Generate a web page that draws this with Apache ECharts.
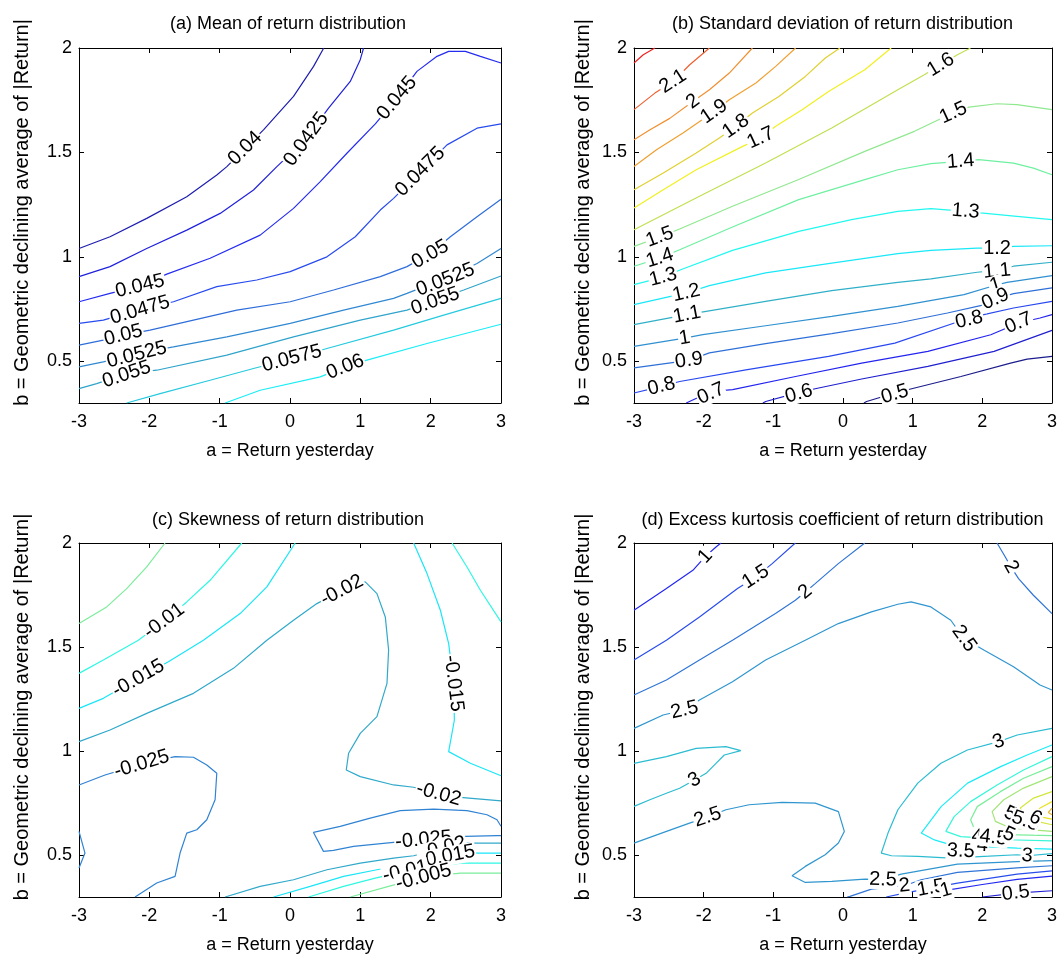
<!DOCTYPE html>
<html><head><meta charset="utf-8">
<script src="https://cdn.jsdelivr.net/npm/echarts@6/dist/echarts.min.js"></script>
<style>html,body{margin:0;padding:0;background:#fff}#c{width:1060px;height:957px}</style>
</head><body><div id="c"></div><script>
// ---------- DATA ----------
const xTicks = [-3, -2, -1, 0, 1, 2, 3];
const yTicks = [0.5, 1, 1.5, 2];
const titles = ['(a) Mean of return distribution', '(b) Standard deviation of return distribution',
  '(c) Skewness of return distribution', '(d) Excess kurtosis coefficient of return distribution'];
const xName = 'a = Return yesterday';
const yName = 'b = Geometric declining average of |Return|';

// each entry: [level, [[a, b], ...]]
const meanLines = [
 [0.04, [[-3,1.04],[-2.559,1.096],[-2.037,1.184],[-1.468,1.288],[-1.041,1.392],[-0.898,1.432],[-0.638,1.52],[-0.377,1.608],[0.05,1.768],[0.335,1.912],[0.48,2.0]]],
 [0.0425, [[-3,0.905],[-2.559,0.953],[-2.037,1.04],[-1.468,1.128],[-0.993,1.208],[-0.519,1.32],[-0.187,1.432],[0.216,1.56],[0.548,1.712],[0.857,1.84],[0.999,1.944],[1.046,2.0]]],
 [0.045, [[-3,0.785],[-2.559,0.825],[-2.132,0.86],[-1.752,0.917],[-1.136,0.993],[-0.424,1.104],[0.05,1.232],[0.43,1.36],[0.809,1.496],[1.213,1.637],[1.521,1.76],[1.805,1.888],[2.09,1.96],[2.256,1.984],[2.493,1.984],[2.707,1.96],[3,1.928]]],
 [0.0475, [[-3,0.681],[-2.654,0.697],[-2.132,0.748],[-1.657,0.785],[-1.041,0.857],[-0.472,0.889],[0.003,0.929],[0.525,1.0],[0.928,1.096],[1.284,1.224],[1.473,1.28],[1.853,1.408],[2.232,1.536],[2.659,1.616],[3,1.637]]],
 [0.05, [[-3,0.577],[-2.654,0.601],[-2.369,0.625],[-1.99,0.649],[-1.373,0.697],[-0.756,0.745],[0.003,0.785],[0.62,0.841],[1.284,0.905],[1.663,0.953],[1.995,1.016],[2.28,1.096],[2.659,1.192],[3,1.276]]],
 [0.0525, [[-3,0.473],[-2.654,0.497],[-2.179,0.537],[-1.657,0.569],[-0.898,0.617],[0.003,0.681],[0.762,0.745],[1.473,0.801],[1.663,0.825],[2.209,0.897],[2.659,0.968],[3,1.04]]],
 [0.055, [[-3,0.369],[-2.749,0.393],[-2.322,0.441],[-1.895,0.457],[-0.898,0.529],[0.05,0.617],[0.999,0.697],[1.663,0.745],[2.066,0.793],[2.47,0.841],[3,0.908]]],
 [0.0575, [[-2.322,0.3],[-1.847,0.345],[-1.136,0.409],[-0.519,0.465],[0.027,0.513],[0.525,0.561],[1.473,0.649],[2.185,0.721],[3,0.801]]],
 [0.06, [[-0.922,0.3],[-0.424,0.361],[0.43,0.425],[0.786,0.473],[1.094,0.505],[1.948,0.585],[3,0.677]]]
];
// each entry: [level, a, b]
const meanLabels = [[0.04,-0.638,1.52],[0.0425,0.23,1.563],[0.045,1.521,1.76],[0.0475,1.853,1.408],
 [0.045,-2.132,0.86],[0.0475,-2.132,0.745],[0.05,-2.369,0.625],[0.0525,-2.179,0.531],[0.055,-2.322,0.437],
 [0.0575,0.027,0.513],[0.06,0.786,0.473],[0.05,1.995,1.012],[0.0525,2.209,0.89],[0.055,2.066,0.788]];

const stdLines = [
 [2.2, [[-3,1.928],[-2.867,1.968],[-2.70,2.0]]],
 [2.1, [[-3,1.705],[-2.70,1.784],[-2.44,1.84],[-2.20,1.92],[-1.917,2.0]]],
 [2.0, [[-3,1.561],[-2.77,1.609],[-2.487,1.663],[-2.155,1.744],[-1.917,1.80],[-1.632,1.88],[-1.30,2.0]]],
 [1.9, [[-3,1.433],[-2.677,1.513],[-2.297,1.593],[-1.85,1.696],[-1.632,1.752],[-1.25,1.832],[-0.966,1.912],[-0.68,2.0]]],
 [1.8, [[-3,1.321],[-2.58,1.401],[-2.107,1.497],[-1.775,1.569],[-1.537,1.625],[-1.30,1.689],[-0.92,1.768],[-0.54,1.864],[-0.254,1.952],[-0.043,2.0]]],
 [1.7, [[-3,1.234],[-2.58,1.321],[-2.107,1.417],[-1.44,1.529],[-1.18,1.569],[-0.966,1.625],[-0.587,1.704],[-0.207,1.792],[0.313,1.896],[0.692,2.0]]],
 [1.6, [[-3,1.13],[-2.06,1.29],[-1.111,1.449],[-0.162,1.617],[0.787,1.8],[1.167,1.872],[1.404,1.92],[1.642,1.968],[1.831,2.0]]],
 [1.5, [[-3,1.05],[-2.63,1.095],[-2.345,1.133],[-1.586,1.242],[-0.636,1.37],[0.313,1.505],[1.025,1.601],[1.357,1.654],[1.585,1.689],[1.808,1.717],[2.211,1.733],[2.496,1.729],[3,1.705]]],
 [1.4, [[-3,0.955],[-2.63,0.994],[-2.345,1.034],[-1.586,1.143],[-0.636,1.274],[0.313,1.37],[0.787,1.417],[1.262,1.446],[1.689,1.457],[1.95,1.465],[2.448,1.449],[2.733,1.425],[3,1.393]]],
 [1.3, [[-3,0.867],[-2.582,0.903],[-2.321,0.939],[-1.586,1.031],[-0.636,1.122],[0.123,1.178],[0.787,1.218],[1.262,1.231],[1.76,1.218],[1.974,1.21],[2.496,1.194],[3,1.178]]],
 [1.2, [[-3,0.771],[-2.25,0.827],[-1.918,0.862],[-1.111,0.923],[-0.162,0.97],[0.787,1.015],[1.262,1.031],[1.926,1.042],[2.211,1.042],[2.448,1.05],[3,1.053]]],
 [1.1, [[-3,0.675],[-2.241,0.723],[-1.965,0.739],[-1.111,0.787],[-0.162,0.838],[0.787,0.878],[1.262,0.894],[1.926,0.926],[2.211,0.935],[2.448,0.955],[3,0.974]]],
 [1.0, [[-3,0.571],[-2.274,0.611],[-2.013,0.627],[-1.111,0.67],[-0.162,0.715],[0.787,0.763],[1.737,0.819],[2.188,0.864],[2.354,0.878],[3,0.91]]],
 [0.9, [[-3,0.468],[-2.212,0.504],[-1.918,0.54],[-1.111,0.584],[-0.162,0.632],[0.787,0.683],[1.499,0.731],[1.974,0.766],[2.188,0.798],[2.448,0.824],[3,0.851]]],
 [0.8, [[-3,0.348],[-2.606,0.38],[-2.344,0.403],[-1.394,0.459],[-0.207,0.523],[0.744,0.587],[1.599,0.683],[1.808,0.699],[2.021,0.723],[2.448,0.755],[3,0.787]]],
 [0.7, [[-2.25,0.3],[-2.226,0.307],[-1.893,0.355],[-1.585,0.364],[-0.681,0.427],[0.268,0.491],[1.218,0.547],[2.121,0.627],[2.52,0.683],[2.828,0.707],[3,0.723]]],
 [0.6, [[-1.15,0.3],[-1.109,0.307],[-0.634,0.351],[-0.349,0.372],[0.268,0.415],[1.218,0.475],[2.169,0.547],[3,0.648]]],
 [0.5, [[0.3,0.3],[0.339,0.307],[0.744,0.348],[1.029,0.372],[1.693,0.427],[2.405,0.491],[2.643,0.51],[3,0.523]]]
];
const stdLabels = [[2.1,-2.44,1.84],[2,-2.155,1.744],[1.9,-1.85,1.696],[1.8,-1.537,1.625],[1.7,-1.18,1.569],
 [1.6,1.404,1.92],[1.5,1.585,1.689],[1.4,1.689,1.457],[1.3,1.76,1.218],[1.2,2.211,1.042],[1.1,2.211,0.931],
 [1,2.188,0.864],[0.9,2.188,0.798],[0.8,1.808,0.699],[0.7,2.52,0.683],[1.5,-2.63,1.095],[1.4,-2.63,0.994],
 [1.3,-2.582,0.903],[1.2,-2.25,0.827],[1.1,-2.241,0.723],[1,-2.274,0.611],[0.9,-2.212,0.504],[0.8,-2.606,0.38],
 [0.7,-1.893,0.345],[0.6,-0.634,0.345],[0.5,0.744,0.342]];

const skewLines = [
 [-0.005, [[-3,1.613],[-2.606,1.693],[-2.322,1.781],[-2.037,1.885],[-1.776,2.0]]],
 [-0.01, [[-3,1.374],[-2.654,1.438],[-2.156,1.533],[-1.79,1.626],[-1.468,1.717],[-1.136,1.821],[-0.685,2.0]]],
 [-0.015, [[-3,1.206],[-2.654,1.254],[-2.156,1.35],[-1.729,1.43],[-1.231,1.533],[-0.709,1.661],[-0.329,1.789],[0.074,2.0]]],
 [-0.02, [[-3,1.046],[-2.559,1.102],[-2.037,1.182],[-1.373,1.278],[-0.804,1.398],[-0.329,1.533],[0.05,1.629],[0.382,1.709],[0.738,1.773],[1.07,1.813],[1.236,1.757],[1.355,1.645],[1.402,1.486],[1.379,1.326],[1.236,1.166],[0.999,1.086],[0.833,0.99],[0.8,0.91],[0.999,0.878],[1.473,0.838],[1.758,0.827],[2.114,0.794],[2.422,0.778],[3,0.762]]],
 [-0.015, [[1.758,2.0],[1.948,1.853],[2.138,1.677],[2.256,1.517],[2.327,1.326],[2.337,1.15],[2.256,0.998],[2.565,0.942],[3,0.882]]],
 [-0.01, [[2.304,2.0],[2.517,1.885],[2.707,1.773],[3,1.621]]],
 [-0.025, [[-3,0.838],[-2.63,0.886],[-2.108,0.939],[-1.634,0.974],[-1.373,0.971],[-1.183,0.934],[-1.041,0.894],[-1.065,0.767],[-1.183,0.671],[-1.325,0.623],[-1.468,0.607],[-1.563,0.511],[-1.634,0.399],[-1.895,0.367],[-2.203,0.3]]],
 [-0.025, [[-3,0.615],[-2.915,0.511],[-3,0.439]]],
 [-0.025, [[3,0.64],[2.943,0.671],[2.801,0.695],[2.517,0.715],[2.042,0.722],[1.567,0.715],[1.141,0.679],[0.714,0.639],[0.334,0.61],[0.476,0.519],[0.618,0.524],[0.903,0.543],[1.472,0.562],[1.899,0.575],[2.492,0.591],[2.943,0.595],[3,0.595]]],
 [-0.02, [[-0.922,0.3],[-0.424,0.351],[0.05,0.383],[0.525,0.431],[0.999,0.463],[1.473,0.487],[1.758,0.498],[2.184,0.535],[2.47,0.559],[3,0.559]]],
 [-0.015, [[-0.234,0.3],[0.287,0.351],[0.762,0.399],[1.236,0.431],[1.616,0.455],[2.232,0.495],[2.541,0.511],[3,0.511]]],
 [-0.01, [[0.264,0.3],[0.762,0.351],[1.212,0.391],[1.639,0.423],[2.422,0.463],[3,0.463]]],
 [-0.005, [[0.857,0.3],[1.402,0.351],[1.899,0.396],[2.422,0.415],[3,0.415]]]
];
const skewLabels = [[-0.01,-1.79,1.626],[-0.015,-2.156,1.35],[-0.02,0.738,1.773],[-0.015,2.327,1.326],
 [-0.025,-2.108,0.939],[-0.02,2.114,0.794],[-0.025,1.899,0.575],[-0.02,2.184,0.535],[-0.015,2.232,0.495],
 [-0.01,1.639,0.423],[-0.005,1.899,0.396]];

const kurtLines = [
 [1, [[-3,1.677],[-2.535,1.781],[-2.155,1.869],[-1.975,1.936],[-1.823,1.981],[-1.752,2.0]]],
 [1.5, [[-3,1.438],[-2.535,1.533],[-2.06,1.645],[-1.514,1.781],[-1.253,1.837],[-1.016,1.901],[-0.684,2.0]]],
 [2, [[-3,1.27],[-2.535,1.342],[-2.06,1.438],[-1.586,1.533],[-0.969,1.661],[-0.684,1.725],[-0.541,1.765],[-0.399,1.805],[-0.067,1.901],[0.313,2.0]]],
 [2, [[2.211,2.0],[2.33,1.933],[2.411,1.885],[2.52,1.829],[2.733,1.749],[3,1.661]]],
 [2.5, [[-3,1.11],[-2.582,1.174],[-2.274,1.198],[-2.06,1.246],[-1.586,1.334],[-1.111,1.438],[-0.542,1.533],[-0.067,1.613],[0.408,1.669],[0.787,1.706],[0.977,1.717],[1.262,1.693],[1.547,1.629],[1.737,1.541],[2.021,1.486],[2.448,1.406],[2.828,1.318],[3,1.294]]],
 [3, [[-3,0.942],[-2.535,0.974],[-2.108,1.014],[-1.681,1.022],[-1.467,1.003],[-1.704,0.982],[-1.823,0.942],[-1.965,0.894],[-2.131,0.862],[-2.345,0.822],[-2.535,0.798],[-2.772,0.767],[-3,0.735]]],
 [2.5, [[-3,0.559],[-2.534,0.615],[-2.203,0.655],[-1.942,0.684],[-1.68,0.719],[-1.348,0.743],[-0.874,0.754],[-0.399,0.751],[-0.066,0.71],[0.019,0.615],[-0.066,0.559],[-0.256,0.503],[-0.541,0.447],[-0.731,0.402],[-0.541,0.37],[-0.161,0.375],[0.314,0.386],[0.574,0.383],[0.835,0.41],[1.643,0.458],[2.5,0.47],[3,0.475]]],
 [3, [[3,1.11],[2.501,1.078],[2.235,1.046],[1.785,1.006],[1.405,0.942],[1.073,0.847],[0.788,0.719],[0.646,0.607],[0.55,0.511],[0.695,0.498],[1.076,0.495],[1.55,0.487],[2.026,0.495],[2.501,0.503],[2.643,0.498],[3,0.508]]],
 [3.5, [[3,1.03],[2.643,0.982],[2.263,0.926],[1.788,0.847],[1.408,0.734],[1.123,0.607],[1.313,0.574],[1.55,0.55],[1.93,0.543],[2.5,0.535],[3,0.53]]],
 [4, [[3,0.974],[2.592,0.91],[2.212,0.838],[1.832,0.758],[1.595,0.686],[1.476,0.615],[1.69,0.59],[1.927,0.585],[2.355,0.575],[3,0.57]]],
 [4.5, [[3,0.926],[2.592,0.87],[2.259,0.806],[1.927,0.734],[1.832,0.671],[1.88,0.631],[1.975,0.615],[2.355,0.6],[3,0.595]]],
 [5, [[3,0.878],[2.592,0.823],[2.307,0.767],[2.141,0.71],[2.188,0.663],[2.402,0.631],[3,0.615]]],
 [5.5, [[3,0.806],[2.735,0.775],[2.545,0.727],[2.592,0.686],[2.782,0.663],[3,0.647]]],
 [6, [[3,0.758],[2.829,0.727],[2.758,0.703],[2.853,0.684],[3,0.674]]],
 [6.5, [[3,0.727],[2.948,0.706],[3,0.695]]],
 [2, [[0.06,0.3],[0.1,0.303],[0.408,0.338],[0.883,0.354],[1.12,0.383],[1.643,0.418],[2.5,0.44],[3,0.45]]],
 [1.5, [[0.62,0.3],[0.883,0.319],[1.262,0.343],[1.643,0.367],[2.5,0.41],[3,0.425]]],
 [1, [[1.12,0.3],[1.476,0.332],[2.0,0.36],[2.5,0.385],[3,0.4]]],
 [0.5, [[2.0,0.3],[2.48,0.319],[3,0.33]]]
];
const kurtLabels = [[1,-1.975,1.936],[1.5,-1.253,1.837],[2,-0.541,1.765],[2,2.411,1.885],[2.5,1.737,1.541],
 [2.5,-2.274,1.198],[3,-2.131,0.862],[2.5,-1.942,0.684],[3,2.235,1.046],[3.5,1.69,0.52],[4,1.927,0.59],
 [4,2.0,0.548],[4.5,2.16,0.585],[5,2.38,0.6],[5,2.40,0.70],[5.5,2.62,0.665],[6,2.76,0.68],[3,2.643,0.498],
 [2.5,0.574,0.383],[2,0.883,0.354],[1.5,1.262,0.343],[1,1.476,0.332],[0.5,2.48,0.319]];

// ---------- STYLE / LAYOUT ----------
const FONT = '"Liberation Sans", Arial, Helvetica, sans-serif';
const CMAP = [[0,'#1c1c8c'],[0.0588,'#2020d0'],[0.1176,'#2424f0'],[0.176,'#2848f0'],[0.235,'#2f70d8'],
 [0.294,'#3090d0'],[0.353,'#30b0c8'],[0.412,'#18e8f8'],[0.47,'#20f8f0'],[0.53,'#70f0a0'],[0.588,'#90e890'],
 [0.647,'#c0e050'],[0.706,'#f0f020'],[0.765,'#e0d030'],[0.824,'#f0a030'],[0.882,'#f09030'],[0.94,'#f06030'],[1,'#f02020']];
function hex2rgb(h){return [parseInt(h.slice(1,3),16),parseInt(h.slice(3,5),16),parseInt(h.slice(5,7),16)];}
function cmap(t){
  t = Math.max(0, Math.min(1, t));
  for (let k = 0; k < CMAP.length - 1; k++) {
    const [t0,c0] = CMAP[k], [t1,c1] = CMAP[k+1];
    if (t <= t1) {
      const f = (t - t0) / (t1 - t0), a = hex2rgb(c0), b = hex2rgb(c1);
      return 'rgb(' + a.map((v,j)=>Math.round(v + (b[j]-v)*f)).join(',') + ')';
    }
  }
  return CMAP[CMAP.length-1][1];
}
const panels = [
 {lines: meanLines, labels: meanLabels, clim:[0.0385,0.0885], grid:{left:79,top:48,width:422,height:355}, titleTop:15, yGap:47},
 {lines: stdLines, labels: stdLabels, clim:[0.5,2.2], grid:{left:634,top:48,width:421,height:355}, titleTop:15, yGap:41},
 {lines: skewLines, labels: skewLabels, clim:[-0.0443,0.0271], grid:{left:79,top:543,width:422,height:354}, titleTop:511, yGap:47},
 {lines: kurtLines, labels: kurtLabels, clim:[0,8.2], grid:{left:634,top:543,width:421,height:354}, titleTop:511, yGap:41}
];

const chart = echarts.init(document.getElementById('c'), null, {renderer:'canvas'});
const axisLine = {show:true, onZero:false, lineStyle:{color:'#000', width:1}};
const txt = {color:'#000', fontSize:18, fontFamily:FONT};
const option = {backgroundColor:'#fff', animation:false, title:[], grid:[], xAxis:[], yAxis:[], series:[]};
panels.forEach((p, i) => {
  option.grid.push(Object.assign({containLabel:false}, p.grid));
  option.title.push({text:titles[i], left:p.grid.left + p.grid.width/2 - 2, top:p.titleTop, textAlign:'center', padding:0,
    textStyle:Object.assign({fontWeight:'normal'}, txt)});
  const xb = {gridIndex:i, type:'value', min:xTicks[0], max:xTicks[xTicks.length-1], interval:1,
    axisLine, splitLine:{show:false}, axisTick:{inside:true, length:5, lineStyle:{color:'#000'}}};
  option.xAxis.push(Object.assign({}, xb, {position:'bottom', axisLabel:Object.assign({margin:10}, txt),
    name:xName, nameLocation:'middle', nameGap:39, nameTextStyle:txt}));
  option.xAxis.push(Object.assign({}, xb, {position:'top', axisLabel:{show:false}}));
  const yb = {gridIndex:i, type:'value', min:0.3, max:2, axisLine, splitLine:{show:false},
    axisTick:{inside:true, length:5, customValues:yTicks, lineStyle:{color:'#000'}}};
  option.yAxis.push(Object.assign({}, yb, {position:'left', axisLabel:Object.assign({margin:7, customValues:yTicks}, txt),
    name:yName, nameLocation:'middle', nameRotate:90, nameGap:p.yGap,
    nameTextStyle:Object.assign({}, txt, {fontSize:20, padding:[0,0,0,26]})}));
  option.yAxis.push(Object.assign({}, yb, {position:'right', axisLabel:{show:false, customValues:yTicks}}));
  p.lines.forEach(([lv, pts]) => {
    option.series.push({type:'line', xAxisIndex:2*i, yAxisIndex:2*i, data:pts, symbol:'none', showSymbol:false,
      silent:true, z:2, animation:false, lineStyle:{color:cmap((lv - p.clim[0])/(p.clim[1]-p.clim[0])), width:1.2}});
  });
});
chart.setOption(option);

function segDist(p, a, b){
  const dx=b[0]-a[0], dy=b[1]-a[1], L=dx*dx+dy*dy;
  let t = L ? ((p[0]-a[0])*dx + (p[1]-a[1])*dy)/L : 0; t=Math.max(0,Math.min(1,t));
  const x=a[0]+t*dx, y=a[1]+t*dy; return Math.hypot(p[0]-x, p[1]-y);
}
function angleFor(i, lines, lab){
  const f = {xAxisIndex:2*i, yAxisIndex:2*i};
  const p = chart.convertToPixel(f, [lab[1], lab[2]]);
  let best = Infinity, ang = 0;
  lines.forEach(([lv, pts]) => {
    if (Math.abs(lv - lab[0]) > 1e-9) return;
    for (let k = 0; k < pts.length-1; k++) {
      const a = chart.convertToPixel(f, pts[k]), b = chart.convertToPixel(f, pts[k+1]);
      const d = segDist(p, a, b);
      if (d < best) { best = d; ang = Math.atan2(-(b[1]-a[1]), b[0]-a[0]) * 180 / Math.PI; }
    }
  });
  if (ang > 90) ang -= 180; if (ang < -90) ang += 180;
  return ang;
}
const labelSeries = panels.map((p, i) => ({
  type:'scatter', xAxisIndex:2*i, yAxisIndex:2*i, symbolSize:1, silent:true, z:5, animation:false,
  itemStyle:{color:'#fff', opacity:0},
  label:Object.assign({show:true, position:'inside', formatter:'{b}', backgroundColor:'#fff', padding:[0,1], lineHeight:19,
    textBorderWidth:0, textBorderColor:'transparent', opacity:1}, txt, {fontSize:20}),
  data:p.labels.map(l => ({name:String(l[0]), value:[l[1], l[2]], label:{rotate:angleFor(i, p.lines, l)}}))
}));
chart.setOption({series: option.series.concat(labelSeries)});
</script></body></html>
